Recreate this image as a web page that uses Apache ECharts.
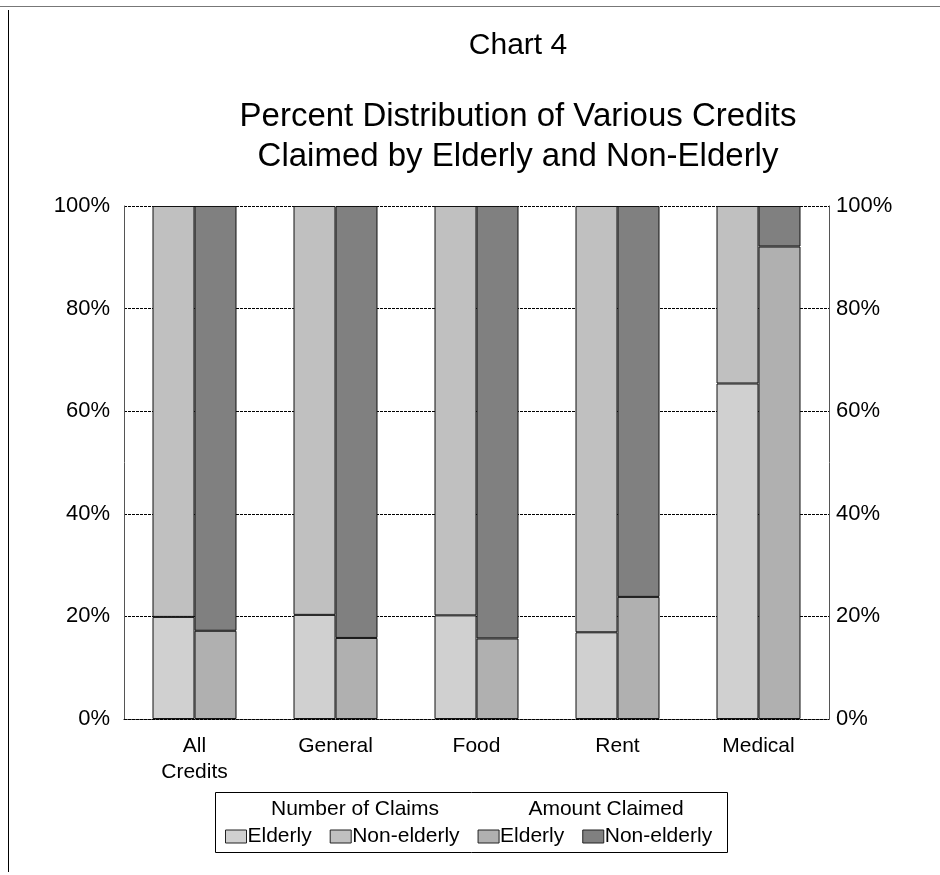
<!DOCTYPE html>
<html>
<head>
<meta charset="utf-8">
<script src="https://cdn.jsdelivr.net/npm/echarts@6/dist/echarts.min.js"></script>
<style>
  html, body { margin: 0; padding: 0; background: #fff; }
  #chart { width: 940px; height: 875px; }
</style>
</head>
<body>
<div id="chart"></div>
<script>
// Credit categories along the x axis
const categories = ['All\nCredits', 'General', 'Food', 'Rent', 'Medical'];

// Number of claims (percent of total)
const claimsElderly    = [19.9, 20.3, 20.2, 16.9, 65.4];
const claimsNonElderly = [80.1, 79.7, 79.8, 83.1, 34.6];

// Amount claimed (percent of total)
const amountElderly    = [17.2, 15.8, 15.7, 23.8, 92.1];
const amountNonElderly = [82.8, 84.2, 84.3, 76.2, 7.9];

const yTicks = [0, 20, 40, 60, 80, 100];

const FONT = '"Liberation Sans", Arial, sans-serif';
const chart = echarts.init(document.getElementById('chart'), null, { renderer: 'canvas' });

function barSeries(name, stack, data, color) {
  return {
    name: name,
    type: 'bar',
    stack: stack,
    data: data,
    barWidth: 42,
    barGap: '0%',
    itemStyle: { color: color, borderColor: '#111', borderWidth: 1 },
    emphasis: { disabled: true }
  };
}

const tickLabel = { fontFamily: FONT, fontSize: 22, color: '#000' };
const pctFormatter = v => yTicks.includes(v) ? v + '%' : '';

chart.setOption({
  animation: false,
  backgroundColor: '#fff',
  grid: { left: 124, right: 111, top: 206, bottom: 156 },
  legend: {
    left: 225, top: 826,
    itemWidth: 21, itemHeight: 13, itemGap: 18, padding: 0,
    icon: 'rect',
    selectedMode: false,
    formatter: n => n.split(' (')[0],
    textStyle: { fontFamily: FONT, fontSize: 21, color: '#000', padding: [0, 0, 0, -4] },
    itemStyle: { borderColor: '#222', borderWidth: 1 },
    data: ['Elderly (claims)', 'Non-elderly (claims)', 'Elderly (amount)', 'Non-elderly (amount)']
  },
  xAxis: {
    type: 'category',
    data: categories,
    axisLine: { show: true, lineStyle: { color: '#000', type: [3, 1], width: 1 } },
    axisTick: { show: false },
    axisLabel: { fontFamily: FONT, fontSize: 21, color: '#000', margin: 14, lineHeight: 26, interval: 0 }
  },
  yAxis: [
    {
      type: 'value', min: 0, max: 100, interval: 20, position: 'left',
      axisLine: { show: true, lineStyle: { color: '#555' } },
      axisTick: { show: false },
      axisLabel: Object.assign({ margin: 14, formatter: pctFormatter }, tickLabel),
      splitLine: { show: true, lineStyle: { color: '#000', type: [3, 1], width: 1 } }
    },
    {
      type: 'value', min: 0, max: 100, interval: 20, position: 'right',
      axisLine: { show: true, lineStyle: { color: '#555' } },
      axisTick: { show: false },
      axisLabel: Object.assign({ margin: 7, formatter: pctFormatter }, tickLabel),
      splitLine: { show: false }
    }
  ],
  series: [
    barSeries('Elderly (claims)', 'claims', claimsElderly, '#d0d0d0'),
    barSeries('Non-elderly (claims)', 'claims', claimsNonElderly, '#c0c0c0'),
    barSeries('Elderly (amount)', 'amount', amountElderly, '#b0b0b0'),
    barSeries('Non-elderly (amount)', 'amount', amountNonElderly, '#808080')
  ],
  graphic: [
    // page frame
    { type: 'line', shape: { x1: 0, y1: 6.5, x2: 940, y2: 6.5 }, style: { stroke: '#777', lineWidth: 1 } },
    { type: 'line', shape: { x1: 8.5, y1: 10, x2: 8.5, y2: 872 }, style: { stroke: '#000', lineWidth: 1 } },
    // titles
    { type: 'text', x: 518, y: 46, style: { text: 'Chart 4', font: '30px ' + FONT, fill: '#000', textAlign: 'center', textVerticalAlign: 'middle' } },
    { type: 'text', x: 518, y: 117, style: { text: 'Percent Distribution of Various Credits', font: '33px ' + FONT, fill: '#000', textAlign: 'center', textVerticalAlign: 'middle' } },
    { type: 'text', x: 518, y: 157, style: { text: 'Claimed by Elderly and Non-Elderly', font: '33px ' + FONT, fill: '#000', textAlign: 'center', textVerticalAlign: 'middle' } },
    // legend box and group headings
    { type: 'rect', shape: { x: 215.5, y: 792.5, width: 512, height: 60 }, style: { fill: 'none', stroke: '#000', lineWidth: 1 }, z: 1 },
    { type: 'text', x: 355, y: 809, style: { text: 'Number of Claims', font: '21px ' + FONT, fill: '#000', textAlign: 'center', textVerticalAlign: 'middle' } },
    { type: 'text', x: 606, y: 809, style: { text: 'Amount Claimed', font: '21px ' + FONT, fill: '#000', textAlign: 'center', textVerticalAlign: 'middle' } }
  ]
});
</script>
</body>
</html>
